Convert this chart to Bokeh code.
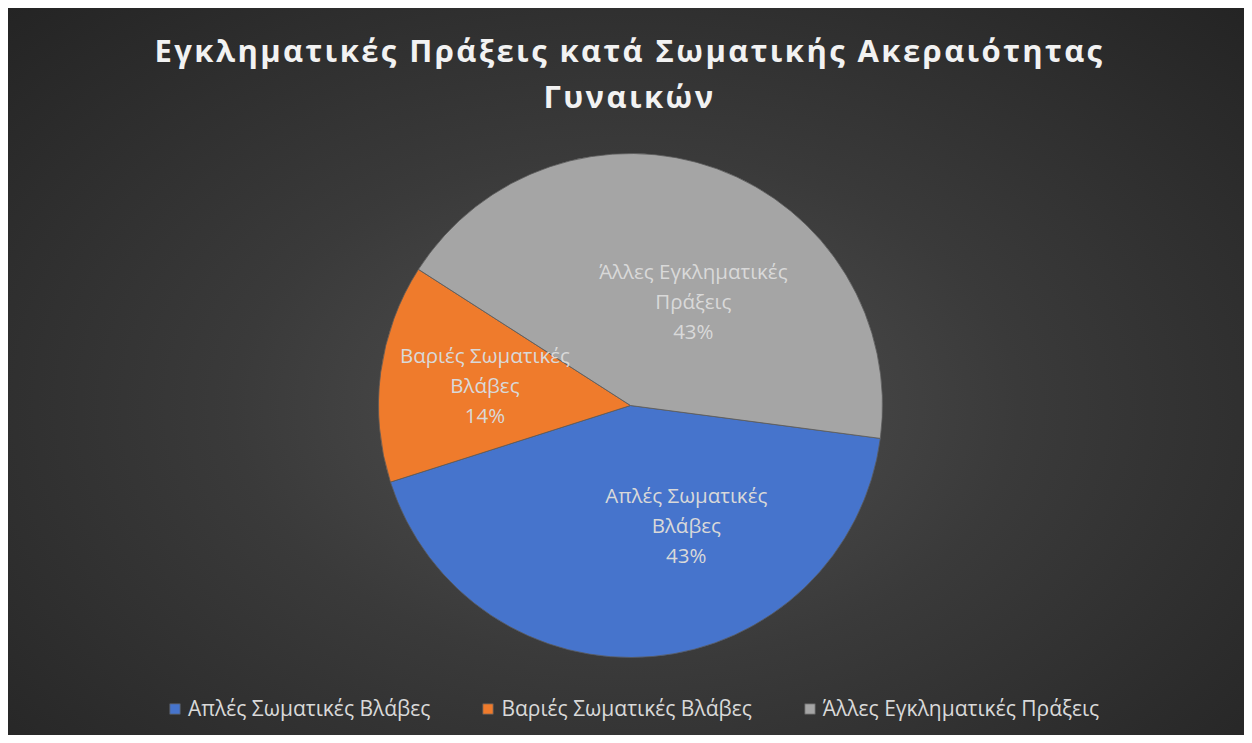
import math
from bokeh.plotting import figure
from bokeh.layouts import column
from bokeh.models import Range1d, Label, Legend, LegendItem, ColumnDataSource
from bokeh.core.properties import value
from bokeh.embed import file_html
from bokeh.resources import INLINE

# ---- data ----
categories = ["Απλές Σωματικές Βλάβες", "Βαριές Σωματικές Βλάβες", "Άλλες Εγκληματικές Πράξεις"]
label_lines = ["Απλές Σωματικές\nΒλάβες", "Βαριές Σωματικές\nΒλάβες", "Άλλες Εγκληματικές\nΠράξεις"]
values = [43, 14, 43]
title_lines = ["Εγκληματικές Πράξεις κατά Σωματικής Ακεραιότητας", "Γυναικών"]

# ---- style / layout ----
colors = ["#4674cc", "#ef7b2c", "#a5a5a5"]
W, H = 1236, 727
TH = 120
PH = H - TH
cx, cy, R = 622, 330, 252
first_slice_deg = 97.5           # Excel style: clockwise from 12 o'clock
label_angle_deg = [-65, 172, 59]
label_dist = [132, 147, 122]
font = "Open Sans"
txt_col = "#d9d9d9"
letter_sp = 2.4

total = float(sum(values))
theta0 = math.radians(90 - first_slice_deg)
starts, ends, cum = [], [], 0.0
for v in values:
    a_end = theta0 - cum / total * 2 * math.pi
    cum += v
    a_start = theta0 - cum / total * 2 * math.pi
    starts.append(a_start)
    ends.append(a_end)


def bare(fig):
    fig.axis.visible = False
    fig.grid.visible = False
    fig.background_fill_color = None
    fig.border_fill_color = None
    fig.outline_line_color = None


# title figure (letter-spaced title)
t = figure(width=W, height=TH, output_backend="svg", toolbar_location=None,
           x_range=Range1d(0, W), y_range=Range1d(0, TH), min_border=0)
bare(t)
t.styles = {"letter-spacing": f"{letter_sp}px"}
for k, line in enumerate(title_lines):
    t.add_layout(Label(x=621 - len(line) * letter_sp / 2, y=TH - 41 - k * 46,
                       x_units="screen", y_units="screen",
                       text=line, text_align="center", text_baseline="middle",
                       text_font=font, text_font_size="31px", text_font_style="bold",
                       text_color="#f2f2f2"))

# pie figure
p = figure(width=W, height=PH, output_backend="svg", toolbar_location=None,
           x_range=Range1d(0, W), y_range=Range1d(0, PH), min_border=0)
bare(p)

renderers = []
for i, cat in enumerate(categories):
    src = ColumnDataSource(dict(x=[cx], y=[cy], s=[starts[i]], e=[ends[i]]))
    r = p.wedge(x="x", y="y", radius=R, start_angle="s", end_angle="e",
                fill_color=colors[i], line_color="#5a5a5a", line_width=0.8, source=src)
    renderers.append(r)

# data labels
lx, ly, lt = [], [], []
for i, cat in enumerate(categories):
    a = math.radians(label_angle_deg[i])
    lx.append(cx + label_dist[i] * math.cos(a))
    ly.append(cy + label_dist[i] * math.sin(a))
    pct = round(values[i] / total * 100)
    lt.append(f"{label_lines[i]}\n{pct}%")
p.text(x=lx, y=ly, text=lt, text_align="center", text_baseline="middle",
       text_font=value(font), text_font_size="20.5px", text_color=txt_col,
       text_line_height=1.08)

legend = Legend(items=[LegendItem(label=c, renderers=[renderers[i]]) for i, c in enumerate(categories)],
                orientation="horizontal", location=(160, 13),
                glyph_width=13, glyph_height=13, label_standoff=7, spacing=51,
                padding=0, margin=0, border_line_alpha=0, background_fill_alpha=0,
                label_text_color=txt_col, label_text_font=font, label_text_font_size="21px")
p.add_layout(legend, "center")

layout = column(t, p, spacing=0)
layout.margin = (8, 8, 8, 8)
layout.styles = {"background": "radial-gradient(ellipse farthest-corner at 50% 55%, #525252 0%, #3a3a3a 45%, #242424 100%)"}

open("out.html", "w").write(file_html(layout, INLINE))
